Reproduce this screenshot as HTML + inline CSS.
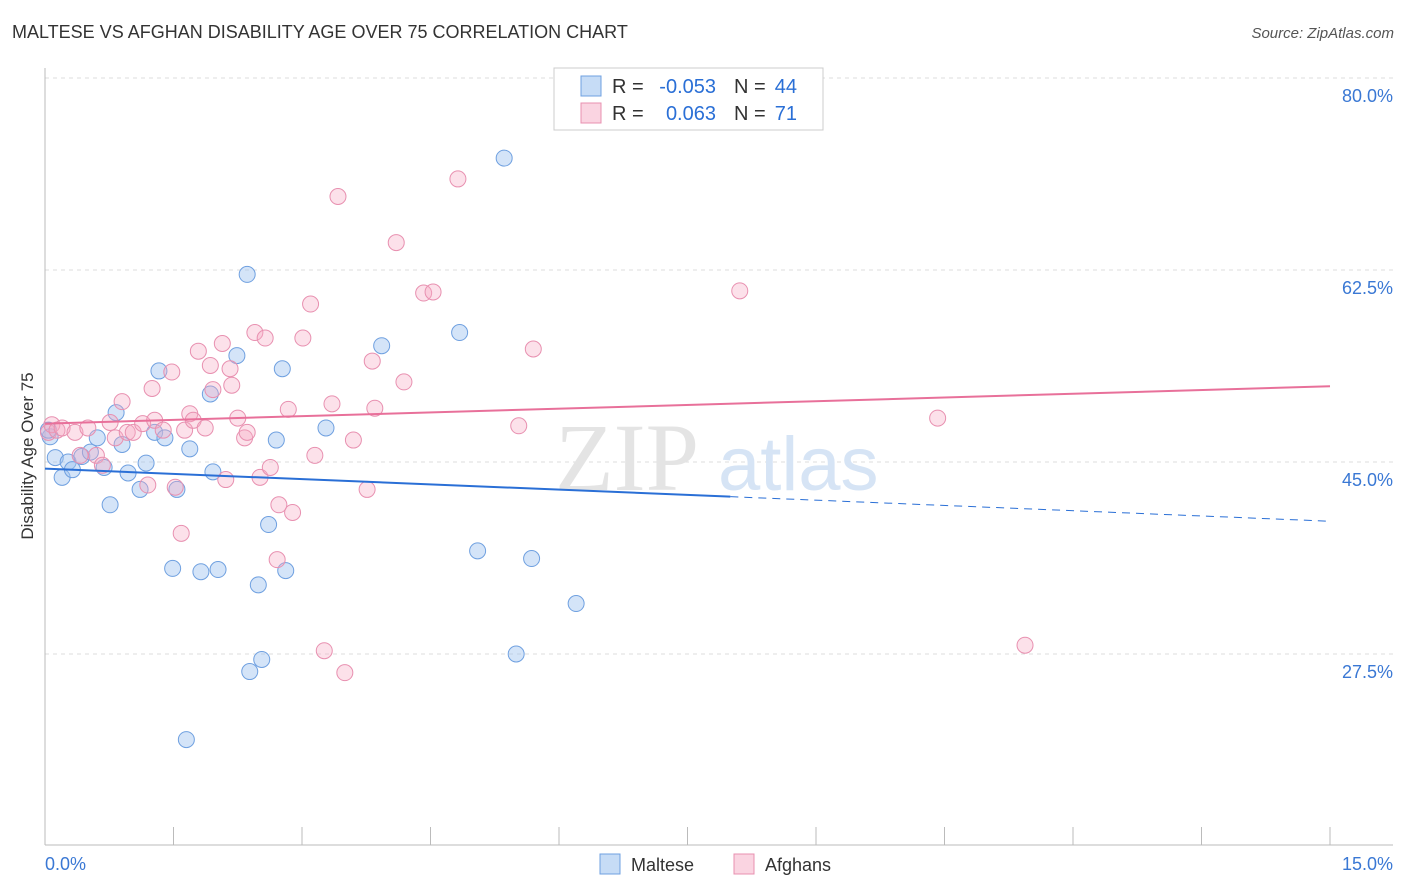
<!DOCTYPE html>
<html><head><meta charset="utf-8">
<style>
body{margin:0;background:#fff;font-family:"Liberation Sans",sans-serif;}
#wrap{position:relative;width:1406px;height:892px;overflow:hidden;}
.t{position:absolute;white-space:nowrap;}
</style></head>
<body>
<div id="wrap">
<div class="t" style="left:12px;top:22px;font-size:18px;color:#333;">MALTESE VS AFGHAN DISABILITY AGE OVER 75 CORRELATION CHART</div>
<div class="t" style="right:12px;top:25px;font-size:15px;color:#555;font-style:italic;">Source: ZipAtlas.com</div>
<svg id="svg" width="1406" height="892" style="position:absolute;left:0;top:0"></svg>
</div>
<script>
const yTicks=[27.5,45.0,62.5,80.0];
const yTickLabels=["27.5%","45.0%","62.5%","80.0%"];
const xTickLabels=["0.0%","15.0%"];
const blueX=[0.06,0.12,0.20,0.27,0.32,0.43,0.53,0.61,0.69,0.76,0.83,0.90,0.97,1.11,1.18,1.28,1.33,1.40,1.49,1.54,1.65,1.69,1.82,1.93,1.96,2.02,2.24,2.36,2.39,2.49,2.53,2.61,2.70,2.77,2.81,3.28,3.93,4.84,5.05,5.36,5.50,5.68,6.20,0.04];
const blueY=[47.3,45.4,43.6,45.0,44.3,45.5,45.9,47.2,44.5,41.1,49.5,46.6,44.0,42.5,44.9,47.7,53.3,47.2,35.3,42.5,19.7,46.2,35.0,51.2,44.1,35.2,54.7,62.1,25.9,33.8,27.0,39.3,47.0,53.5,35.1,48.1,55.6,56.8,36.9,72.7,27.5,36.2,32.1,47.9];
const pinkX=[0.04,0.08,0.14,0.20,0.35,0.41,0.50,0.60,0.67,0.76,0.82,0.90,0.96,1.03,1.14,1.20,1.25,1.28,1.38,1.48,1.52,1.59,1.63,1.69,1.73,1.79,1.87,1.93,1.96,2.07,2.11,2.16,2.18,2.25,2.33,2.36,2.45,2.51,2.57,2.63,2.71,2.73,2.84,2.89,3.01,3.10,3.15,3.26,3.35,3.42,3.50,3.60,3.76,3.82,3.85,4.10,4.19,4.42,4.53,4.82,5.53,5.70,8.11,10.42,11.44];
const pinkY=[47.7,48.4,47.9,48.1,47.7,45.6,48.1,45.6,44.7,48.6,47.2,50.5,47.7,47.7,48.5,42.9,51.7,48.8,47.9,53.2,42.7,38.5,47.9,49.4,48.8,55.1,48.1,53.8,51.6,55.8,43.4,53.5,52.0,49.0,47.2,47.7,56.8,43.6,56.3,44.5,36.1,41.1,49.8,40.4,56.3,59.4,45.6,27.8,50.3,69.2,25.8,47.0,42.5,54.2,49.9,65.0,52.3,60.4,60.5,70.8,48.3,55.3,60.6,49.0,28.3];
const blueTrend=[44.4,39.6]; const blueSolidEnd=8.0;
const pinkTrend=[48.5,51.9];

const NS="http://www.w3.org/2000/svg";
const svg=document.getElementById('svg');
const X=v=>45+v/15*1285;
const Y=v=>78+(80-v)*192/17.5;
function mk(tag,a){const e=document.createElementNS(NS,tag);for(const k in a)e.setAttribute(k,a[k]);svg.appendChild(e);return e;}
yTicks.forEach((t,i)=>{
 const g=mk('line',{x1:45,x2:1393,y1:Y(t),y2:Y(t),stroke:'#ddd','stroke-dasharray':'4,4'});
 
 const tx=mk('text',{x:1393,y:Y(t)+24,'text-anchor':'end','font-size':18,fill:'#3a78d4','font-family':'Liberation Sans'});
 tx.textContent=yTickLabels[i];
 
});
let ax=mk('line',{x1:45,x2:45,y1:68,y2:845,stroke:'#bbb'});
ax=mk('line',{x1:45,x2:1393,y1:845,y2:845,stroke:'#bbb'});
for(let i=0;i<=10;i++){const tk=mk('line',{x1:X(i*1.5),x2:X(i*1.5),y1:827,y2:845,stroke:'#bbb'});}
let xl=mk('text',{x:45,y:870,'font-size':18,fill:'#3a78d4','font-family':'Liberation Sans'});xl.textContent=xTickLabels[0];
xl=mk('text',{x:1393,y:870,'text-anchor':'end','font-size':18,fill:'#3a78d4','font-family':'Liberation Sans'});xl.textContent=xTickLabels[1];
let yt=mk('text',{x:0,y:0,'font-size':17,fill:'#333','font-family':'Liberation Sans','text-anchor':'middle',transform:'translate(33,456) rotate(-90)'});yt.textContent='Disability Age Over 75';
let wm=mk('text',{x:555,y:490,'font-size':96,fill:'#e4e4e4','font-family':'Liberation Serif'});wm.textContent='ZIP';
wm=mk('text',{x:718,y:490,'font-size':76,fill:'#d6e4f5','font-family':'Liberation Sans'});wm.textContent='atlas';
blueX.forEach((v,i)=>{const c=mk('circle',{cx:X(v),cy:Y(blueY[i]),r:8,fill:'rgba(160,196,240,0.45)',stroke:'#6fa0e0','stroke-width':1});});
pinkX.forEach((v,i)=>{const c=mk('circle',{cx:X(v),cy:Y(pinkY[i]),r:8,fill:'rgba(245,170,195,0.35)',stroke:'#e890b0','stroke-width':1});});
const by=x=>blueTrend[0]+(blueTrend[1]-blueTrend[0])*x/15;
let l=mk('line',{x1:X(0),y1:Y(by(0)),x2:X(blueSolidEnd),y2:Y(by(blueSolidEnd)),stroke:'#2a6fd6','stroke-width':2});
l=mk('line',{x1:X(blueSolidEnd),y1:Y(by(blueSolidEnd)),x2:X(15),y2:Y(by(15)),stroke:'#2a6fd6','stroke-width':1,'stroke-dasharray':'8,6'});
l=mk('line',{x1:X(0),y1:Y(pinkTrend[0]),x2:X(15),y2:Y(pinkTrend[1]),stroke:'#e8709a','stroke-width':2});
let lb=mk('rect',{x:554,y:68,width:269,height:62,fill:'#fff',stroke:'#ccc'});
function txt(x,y,s,fill,anchor,name){const t=mk('text',{x:x,y:y,'font-size':20,fill:fill,'font-family':'Liberation Sans','text-anchor':anchor});t.textContent=s;}
function legRow(y,fill,stroke,r,n){
 const s=mk('rect',{x:581,y:y-10,width:20,height:20,fill:fill,stroke:stroke});
 txt(612,y+7,'R =','#333','start','legend-r-label');
 txt(716,y+7,r,'#2a6fd6','end','legend-r-value');
 txt(734,y+7,'N =','#333','start','legend-n-label');
 txt(797,y+7,n,'#2a6fd6','end','legend-n-value');
}
legRow(86,'rgba(160,196,240,0.6)','#6fa0e0','-0.053','44');
legRow(113,'rgba(245,170,195,0.5)','#e890b0','0.063','71');
function bl(x,fill,stroke,s,name){
 const r=mk('rect',{x:x,y:854,width:20,height:20,fill:fill,stroke:stroke});
 const t=mk('text',{x:x+31,y:871,'font-size':18,fill:'#333','font-family':'Liberation Sans'});t.textContent=s;
}
bl(600,'rgba(160,196,240,0.6)','#6fa0e0','Maltese','maltese');
bl(734,'rgba(245,170,195,0.5)','#e890b0','Afghans','afghans');
</script>
</body></html>
